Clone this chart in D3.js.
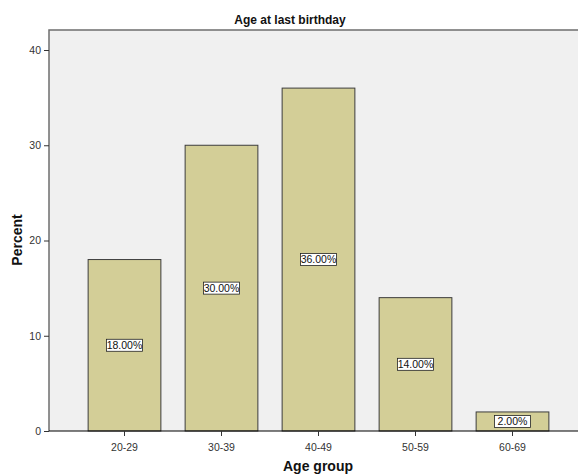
<!DOCTYPE html>
<html>
<head>
<meta charset="utf-8">
<script src="https://cdn.jsdelivr.net/npm/d3@7"></script>
<style>
  body { margin: 0; background: #fff; }
  text { font-family: "Liberation Sans", Arial, sans-serif; }
</style>
</head>
<body>
<svg id="chart" width="578" height="476"></svg>
<script>
// data
var ageGroups = ["20-29", "30-39", "40-49", "50-59", "60-69"];
var percents = [18, 30, 36, 14, 2];
var yTicks = [0, 10, 20, 30, 40];

var svg = d3.select("#chart"),
    plot = {left: 49, top: 30, right: 578, bottom: 431};

var x = d3.scaleBand()
    .domain(ageGroups)
    .range([76, 561])
    .paddingInner(0.25)
    .paddingOuter(0.125);

var y = d3.scaleLinear()
    .domain([0, 40])
    .range([plot.bottom, 50]);

// plot background
svg.append("rect")
    .attr("x", plot.left)
    .attr("y", plot.top)
    .attr("width", plot.right - plot.left)
    .attr("height", plot.bottom - plot.top)
    .attr("fill", "#f0f0f0");

// top + left frame
svg.append("path")
    .attr("d", "M" + plot.left + "," + plot.bottom + "V" + plot.top + "H" + plot.right)
    .attr("fill", "none")
    .attr("stroke", "#6e6e6e")
    .attr("stroke-width", 1.5);

// bars
var data = ageGroups.map((g, i) => ({group: g, value: percents[i]}));

svg.selectAll(".bar")
    .data(data)
    .enter().append("rect")
    .attr("class", "bar")
    .attr("x", d => x(d.group))
    .attr("y", d => y(d.value))
    .attr("width", x.bandwidth())
    .attr("height", d => y(0) - y(d.value))
    .attr("fill", "#d3ce97")
    .attr("stroke", "#3c3c3c")
    .attr("stroke-width", 1);

// value labels in white boxes
var lab = svg.selectAll(".lab")
    .data(data)
    .enter().append("g")
    .attr("class", "lab")
    .attr("transform", d => "translate(" + (x(d.group) + x.bandwidth() / 2) + "," + y(d.value / 2) + ")");

lab.append("rect")
    .attr("x", -18)
    .attr("y", -6)
    .attr("width", 36)
    .attr("height", 12)
    .attr("fill", "#fff")
    .attr("stroke", "#222")
    .attr("stroke-width", 0.8);

lab.append("text")
    .attr("text-anchor", "middle")
    .attr("dy", "0.35em")
    .attr("font-size", 10.5)
    .attr("fill", "#111")
    .text(d => d.value.toFixed(2) + "%");

// y axis
var yAxis = svg.append("g")
    .attr("transform", "translate(" + plot.left + ",0)")
    .call(d3.axisLeft(y).tickValues(yTicks).tickSize(5).tickSizeOuter(0));
yAxis.select(".domain").remove();
yAxis.selectAll("line").attr("stroke", "#333");
yAxis.selectAll("text")
    .attr("font-size", 10.5)
    .attr("fill", "#333")
    .attr("font-family", "Liberation Sans, Arial, sans-serif");

// x axis
var xAxis = svg.append("g")
    .attr("transform", "translate(0," + plot.bottom + ")")
    .call(d3.axisBottom(x).tickSize(5).tickSizeOuter(0));
xAxis.select(".domain")
    .attr("d", "M" + plot.left + ",0H" + plot.right)
    .attr("stroke", "#000");
xAxis.selectAll("line").attr("stroke", "#333");
xAxis.selectAll("text")
    .attr("font-size", 10.5)
    .attr("fill", "#333")
    .attr("dy", "1.1em")
    .attr("font-family", "Liberation Sans, Arial, sans-serif");

// title and axis titles
svg.append("text")
    .attr("x", 290)
    .attr("y", 24)
    .attr("text-anchor", "middle")
    .attr("font-size", 12)
    .attr("font-weight", "bold")
    .attr("fill", "#111")
    .text("Age at last birthday");

svg.append("text")
    .attr("transform", "translate(22," + 240 + ") rotate(-90)")
    .attr("text-anchor", "middle")
    .attr("font-size", 14)
    .attr("font-weight", "bold")
    .attr("fill", "#111")
    .text("Percent");

svg.append("text")
    .attr("x", 318)
    .attr("y", 471)
    .attr("text-anchor", "middle")
    .attr("font-size", 14)
    .attr("font-weight", "bold")
    .attr("fill", "#111")
    .text("Age group");
</script>
</body>
</html>
